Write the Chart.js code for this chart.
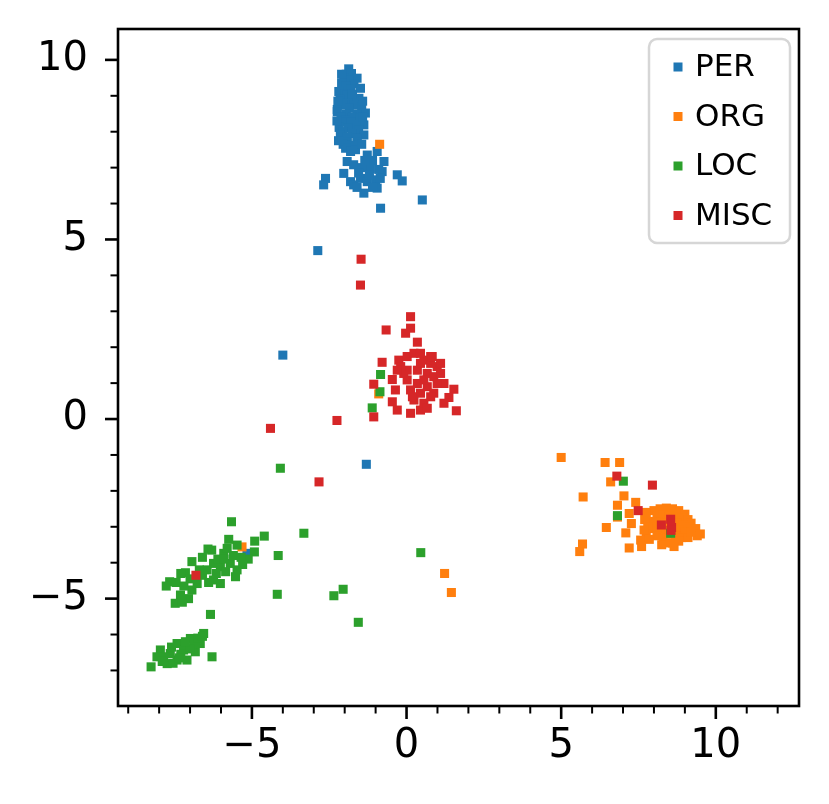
<!DOCTYPE html>
<html>
<head>
<meta charset="utf-8">
<script src="https://cdn.jsdelivr.net/npm/chart.js@4.4.0/dist/chart.umd.min.js"></script>
<style>
  html, body { margin: 0; padding: 0; background: #fff; }
</style>
</head>
<body>
<canvas id="chart" width="829" height="804"></canvas>
<script>
// series names + colours
const seriesLabels = ['PER', 'ORG', 'LOC', 'MISC'];
const seriesColors = ['#1f77b4', '#ff7f0e', '#2ca02c', '#d62728'];

// axis limits + major tick step
const xLimits = [-9.33, 12.69];
const yLimits = [-7.99, 10.86];
const majorStep = 5;

// points, [x, y]
const perPoints = [
  [-1.87, 9.75], [-1.95, 9.6], [-1.78, 9.62], [-2.03, 9.49], [-1.6, 9.49], [-1.85, 9.45],
  [-2.1, 9.35], [-1.7, 9.33], [-1.95, 9.28], [-2.19, 9.12], [-1.49, 9.21], [-1.8, 9.18],
  [-2.0, 9.05], [-1.92, 9.02], [-1.54, 8.93], [-1.75, 8.98], [-2.15, 8.9], [-1.62, 8.85],
  [-1.9, 8.8], [-2.05, 8.75], [-1.71, 8.75], [-2.24, 8.62], [-1.45, 8.68], [-1.85, 8.65],
  [-2.24, 8.56], [-1.33, 8.52], [-1.95, 8.5], [-1.6, 8.5], [-2.12, 8.42], [-1.75, 8.4],
  [-1.5, 8.38], [-2.0, 8.32], [-2.08, 8.28], [-1.81, 8.28], [-1.38, 8.19], [-1.65, 8.2],
  [-2.18, 8.12], [-1.9, 8.1], [-1.55, 8.05], [-2.05, 8.0], [-2.14, 7.91], [-1.38, 7.91],
  [-1.75, 7.95], [-1.92, 7.85], [-1.6, 7.82], [-1.92, 7.72], [-1.6, 7.72], [-2.05, 7.65],
  [-1.78, 7.62], [-1.97, 7.54], [-1.81, 7.45], [-1.65, 7.5], [-2.22, 8.85], [-1.42, 8.85],
  [-2.25, 8.3], [-1.42, 8.4], [-2.2, 7.75], [-1.45, 7.65], [-1.75, 9.05], [-2.1, 9.6],
  [-1.27, 7.35], [-0.95, 7.45], [-0.73, 7.17], [-1.92, 7.17], [-1.71, 7.08], [-1.17, 6.98],
  [-2.03, 6.84], [-0.79, 6.89], [-1.45, 7.0], [-1.1, 7.2], [-0.3, 6.8], [-2.62, 6.7],
  [-1.49, 6.7], [-1.0, 6.66], [-0.14, 6.63], [-1.81, 6.61], [-1.27, 6.61], [-2.68, 6.52],
  [-1.71, 6.52], [-0.95, 6.43], [-1.38, 6.29], [-0.84, 5.87], [0.51, 6.1], [-1.55, 6.85],
  [-1.2, 6.8], [-0.9, 6.95], [-1.6, 6.45], [-1.1, 6.45], [-1.35, 7.2], [-0.85, 6.7],
  [-2.87, 4.69], [-4.0, 1.78], [-1.3, -1.26], [-5.16, -3.74]
];

const orgPoints = [
  [8.0, -2.55], [8.2, -2.5], [8.4, -2.48], [8.6, -2.5], [8.8, -2.55], [9.0, -2.65],
  [8.1, -2.7], [8.3, -2.68], [8.5, -2.7], [8.7, -2.72], [8.9, -2.75], [9.1, -2.8],
  [9.2, -2.9], [7.95, -2.85], [8.15, -2.88], [8.35, -2.9], [8.55, -2.85], [8.75, -2.9],
  [8.95, -2.95], [9.15, -3.0], [9.35, -3.05], [8.0, -3.05], [8.2, -3.05], [8.4, -3.1],
  [8.6, -3.0], [8.8, -3.1], [9.0, -3.15], [9.4, -3.25], [9.5, -3.2], [8.1, -3.25],
  [8.3, -3.3], [8.5, -3.2], [8.7, -3.25], [8.9, -3.3], [9.1, -3.3], [9.2, -3.15],
  [8.4, -3.45], [8.6, -3.45], [8.8, -3.4], [8.25, -3.5], [8.65, -3.55], [7.75, -2.6],
  [7.7, -2.8], [7.8, -3.0], [7.75, -3.2], [7.68, -3.09], [7.73, -2.63], [7.57, -3.37],
  [7.85, -3.35], [7.6, -3.55],
  [5.0, -1.07], [6.42, -1.21], [6.89, -1.21], [6.6, -1.75], [7.03, -2.14], [5.71, -2.17],
  [6.82, -2.4], [7.41, -2.32], [7.2, -2.63], [6.82, -2.73], [6.46, -3.02], [7.09, -3.17],
  [7.27, -2.91], [5.69, -3.48], [5.6, -3.69], [7.2, -3.59],
  [1.23, -4.3], [1.45, -4.83], [-0.87, 7.65], [-0.9, 0.7], [-5.32, -3.56]
];

const locPoints = [
  [-5.66, -2.86], [-4.91, -3.4], [-4.92, -3.7], [-5.12, -3.9], [-5.48, -3.51], [-6.42, -3.62],
  [-6.94, -3.97], [-7.15, -4.28], [-7.66, -4.53], [-7.77, -4.65], [-7.31, -4.9], [-7.48, -5.13],
  [-6.34, -5.44], [-6.94, -4.76], [-6.77, -4.58], [-6.24, -4.48], [-6.02, -4.58], [-5.91, -3.74],
  [-5.7, -4.02], [-5.48, -4.2], [-5.53, -4.39], [-6.45, -4.2], [-6.24, -4.02], [-6.02, -4.11],
  [-6.3, -3.65], [-5.8, -3.6], [-6.6, -3.85], [-6.1, -3.9], [-5.6, -3.8], [-5.35, -3.85],
  [-6.6, -4.35], [-6.4, -4.55], [-7.0, -4.45], [-7.3, -4.3], [-7.45, -4.55], [-7.2, -4.65],
  [-7.05, -5.0], [-6.7, -4.2], [-5.85, -4.25], [-6.15, -4.3], [-7.25, -5.1], [-5.3, -4.05],
  [-5.75, -3.35], [-5.9, -3.9],
  [-8.26, -6.9], [-7.96, -6.43], [-8.07, -6.62], [-7.74, -6.81], [-7.42, -6.71], [-7.1, -6.71],
  [-6.83, -6.48], [-6.56, -5.97], [-6.67, -6.25], [-6.29, -6.62], [-7.42, -6.25], [-6.99, -6.11],
  [-7.64, -6.53], [-7.21, -6.43], [-7.85, -6.62], [-6.88, -6.25], [-7.55, -6.8], [-7.3, -6.55],
  [-7.0, -6.4], [-6.75, -6.1], [-7.9, -6.75], [-7.6, -6.35], [-7.15, -6.2], [-6.6, -6.05],
  [-7.35, -6.65],
  [-4.08, -1.37], [-3.32, -3.18], [-4.6, -3.26], [-4.15, -3.8], [-4.18, -4.88], [-2.35, -4.92],
  [-2.05, -4.74], [0.46, -3.72], [-1.56, -5.66], [-0.84, 1.24], [-0.86, 0.76], [-1.11, 0.31],
  [7.01, -1.73], [6.82, -2.69], [8.54, -3.18]
];

const miscPoints = [
  [-1.47, 4.45], [-1.49, 3.73], [0.13, 2.85], [-0.66, 2.48], [0.13, 2.53], [-0.03, 2.39],
  [0.35, 2.14], [-0.79, 1.58], [-0.46, 1.1], [-1.06, 0.97], [-0.36, 0.81], [-0.46, 0.48],
  [-1.06, 0.06], [1.61, 0.23], [1.53, 0.83], [1.37, 0.6], [1.21, 0.99], [0.78, 1.74],
  [-0.25, 1.64], [0.99, 1.46], [1.21, 0.44], [0.13, 0.16], [0.45, 0.25], [-0.3, 0.25],
  [0.02, 1.74], [0.24, 1.83], [0.56, 1.64], [0.02, 1.36], [0.35, 1.36], [0.67, 1.27],
  [0.88, 1.18], [0.02, 1.09], [0.35, 0.99], [0.67, 0.9], [0.88, 0.72], [0.13, 0.81],
  [0.45, 0.72], [0.24, 0.53], [0.56, 0.44], [0.78, 0.62], [-0.09, 1.27], [-0.19, 1.46],
  [1.1, 1.27], [0.78, 1.55], [0.45, 1.55], [0.99, 0.99], [-0.3, 1.36], [0.56, 1.09],
  [1.1, 1.55], [0.83, 1.74], [0.45, 1.83], [0.19, 0.62], [0.67, 0.3],
  [-2.25, -0.04], [-4.4, -0.26], [-2.83, -1.75], [-6.81, -4.35],
  [6.8, -1.59], [7.95, -1.84], [7.49, -2.55], [8.24, -2.95], [8.54, -2.79], [8.57, -3.02],
  [8.55, -3.1]
];

const allSeries = [perPoints, orgPoints, locPoints, miscPoints];

const fmtTick = (v) => (v < 0 ? '\u2212' + Math.abs(v) : String(v));

// no extra room for edge labels, chart area is fixed by layout padding
const fixBox = (size) => (s) => {
  if (s.isHorizontal()) s.height = size; else s.width = size;
  s.paddingTop = 0;
  s.paddingBottom = 0;
  s.paddingLeft = 0;
  s.paddingRight = 0;
};

// frame, tick marks and legend box like matplotlib
const framePlugin = {
  id: 'frame',
  afterDatasetsDraw(chart) {
    const c = chart.ctx;
    const { left, right, top, bottom } = chart.chartArea;
    c.save();
    c.strokeStyle = '#000';
    c.lineCap = 'butt';

    chart.scales.x.ticks.forEach((t) => {
      const major = t.value % majorStep === 0;
      const px = chart.scales.x.getPixelForValue(t.value);
      c.lineWidth = major ? 2.6 : 2;
      c.beginPath();
      c.moveTo(px, bottom);
      c.lineTo(px, bottom + (major ? 13 : 7.5));
      c.stroke();
    });
    chart.scales.y.ticks.forEach((t) => {
      const major = t.value % majorStep === 0;
      const py = chart.scales.y.getPixelForValue(t.value);
      c.lineWidth = major ? 2.6 : 2;
      c.beginPath();
      c.moveTo(left, py);
      c.lineTo(left - (major ? 13 : 7.5), py);
      c.stroke();
    });

    c.lineWidth = 2.6;
    c.strokeRect(left, top, right - left, bottom - top);
    c.restore();
  },
  afterDraw(chart) {
    const c = chart.ctx;
    const { right, top } = chart.chartArea;
    const w = 141, h = 204, r = 8;
    const bx = right - 9 - w, by = top + 10;
    c.save();
    c.beginPath();
    c.moveTo(bx + r, by);
    c.arcTo(bx + w, by, bx + w, by + h, r);
    c.arcTo(bx + w, by + h, bx, by + h, r);
    c.arcTo(bx, by + h, bx, by, r);
    c.arcTo(bx, by, bx + w, by, r);
    c.closePath();
    c.fillStyle = 'rgba(255,255,255,0.8)';
    c.fill();
    c.lineWidth = 2.5;
    c.strokeStyle = '#d6d6d6';
    c.stroke();

    c.font = '31px "DejaVu Sans"';
    c.textBaseline = 'middle';
    c.textAlign = 'left';
    seriesLabels.forEach((name, i) => {
      const cy = by + 28 + i * 49.5;
      c.fillStyle = seriesColors[i];
      c.fillRect(bx + 24.5, cy - 4.5, 9, 9);
      c.fillStyle = '#000';
      c.fillText(name, bx + 46, cy + 1);
    });
    c.restore();
  }
};

const ctx = document.getElementById('chart');

new Chart(ctx, {
  type: 'scatter',
  data: {
    datasets: seriesLabels.map((name, i) => ({
      label: name,
      data: allSeries[i].map(([x, y]) => ({ x, y })),
      backgroundColor: seriesColors[i],
      borderWidth: 0,
      pointStyle: 'rect',
      pointRadius: 6.4,
      pointHoverRadius: 6.4,
      order: seriesLabels.length - i
    }))
  },
  options: {
    responsive: false,
    devicePixelRatio: 1,
    animation: false,
    events: [],
    layout: { padding: { top: 29, right: 30, left: 0, bottom: 0 } },
    plugins: {
      legend: { display: false },
      tooltip: { enabled: false }
    },
    scales: {
      x: {
        type: 'linear',
        min: xLimits[0],
        max: xLimits[1],
        afterFit: fixBox(98),
        grid: { display: false, drawTicks: false },
        border: { display: false },
        ticks: {
          stepSize: 1,
          includeBounds: false,
          autoSkip: false,
          maxRotation: 0,
          padding: 17,
          color: '#000',
          font: { family: 'DejaVu Sans', size: 40 },
          callback: (v) => (v % majorStep === 0 ? fmtTick(v) : '')
        }
      },
      y: {
        type: 'linear',
        min: yLimits[0],
        max: yLimits[1],
        afterFit: fixBox(118),
        grid: { display: false, drawTicks: false },
        border: { display: false },
        ticks: {
          stepSize: 1,
          includeBounds: false,
          autoSkip: false,
          padding: 30,
          color: '#000',
          font: { family: 'DejaVu Sans', size: 40 },
          callback: (v) => (v % majorStep === 0 ? fmtTick(v) : '')
        }
      }
    }
  },
  plugins: [framePlugin]
});
</script>
</body>
</html>
